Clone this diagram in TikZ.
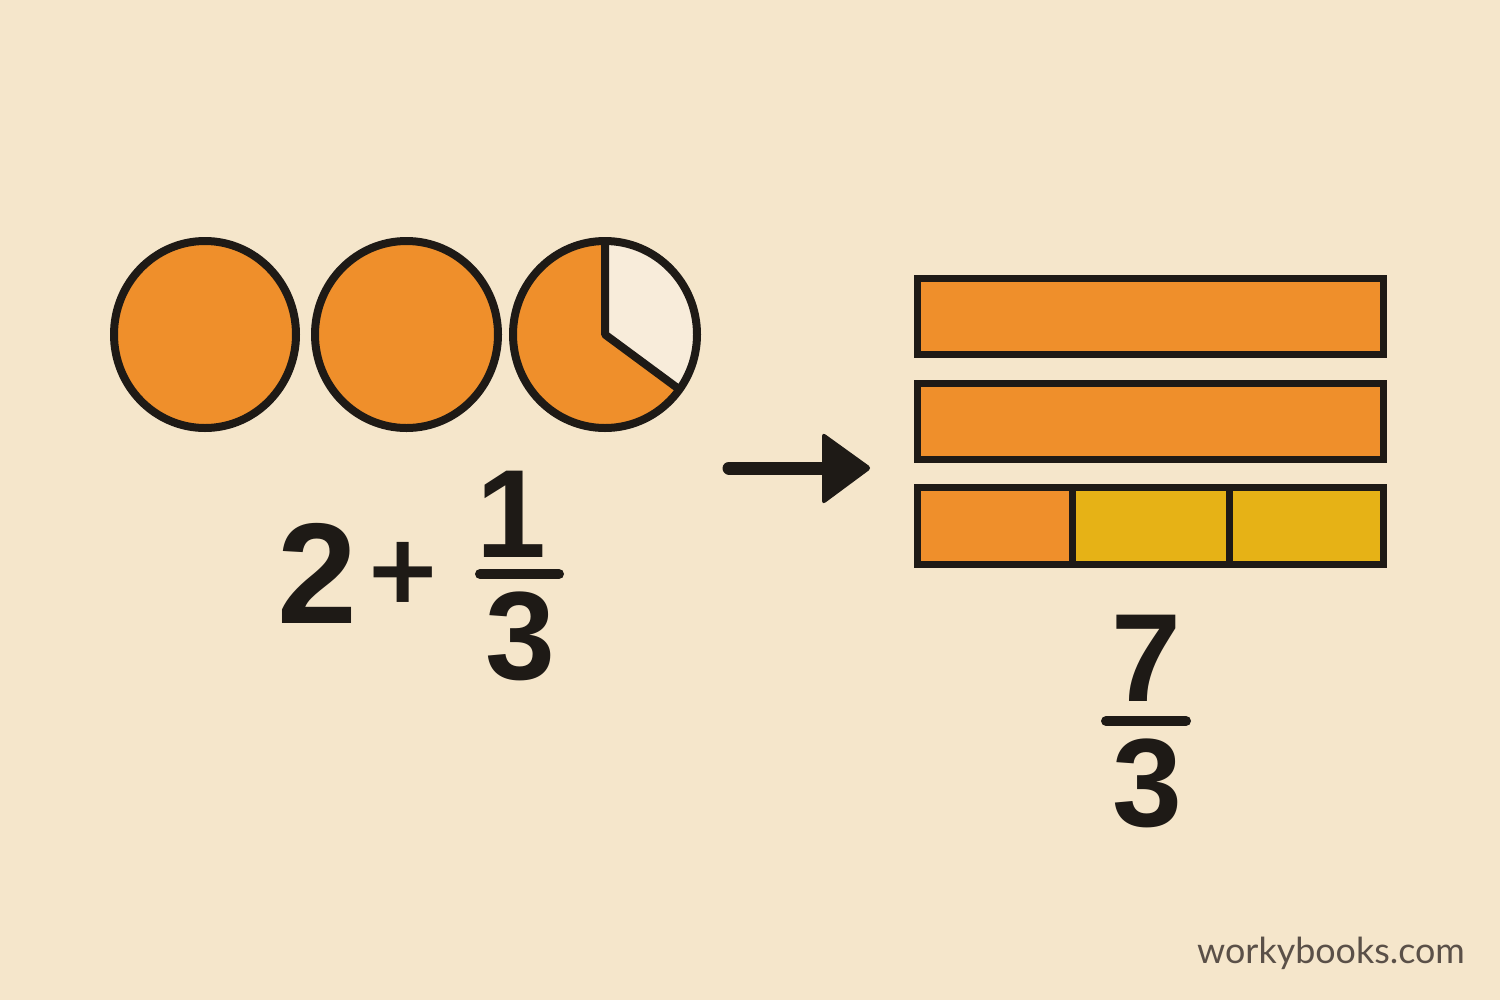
\documentclass[tikz,border=0pt]{standalone}
\usetikzlibrary{calc}
\usepackage{fontspec}
\setmainfont{Lato}
\newfontfamily\digitfont{Liberation Sans}[UprightFont=* Bold]
\newfontfamily\plusfont{Lato}[UprightFont=* Bold]
\newfontfamily\markfont{Lato}
\definecolor{bg}{HTML}{F5E6CB}
\definecolor{ink}{HTML}{1E1A16}
\definecolor{orng}{HTML}{EF8F2B}
\definecolor{yllw}{HTML}{E6B216}
\definecolor{crm}{HTML}{F8ECDA}
\definecolor{wmark}{HTML}{5A5048}
\tikzset{
  outline/.style={draw=ink, line width=8bp, line join=round},
  barbox/.style={draw=ink, line width=7bp, line join=miter},
  bigdigit/.style={text=ink, inner sep=0pt, font=\digitfont\fontsize{144}{144}\selectfont},
  fracdigit/.style={text=ink, inner sep=0pt, font=\digitfont\fontsize{126}{126}\selectfont},
  fracbar/.style={draw=ink, line width=10bp, line cap=round},
}
\begin{document}
\begin{tikzpicture}[x=1bp,y=-1bp]
\fill[bg] (0,0) rectangle (1500,1000);
\useasboundingbox (0,0) rectangle (1500,1000);
% circles
\draw[outline, fill=orng] (205,334.5) ellipse [x radius=91, y radius=93.5];
\draw[outline, fill=orng] (406.5,334.5) ellipse [x radius=91.5, y radius=93.5];
\fill[orng] (605,334.5) ellipse [x radius=92, y radius=93.5];
\fill[crm] (605,334.5) -- (605,241) arc [start angle=-90, end angle=36, x radius=92, y radius=93.5] -- cycle;
\draw[ink, line width=8bp, line join=round] (605,241) -- (605,334.5) -- ($(605,334.5)+(36:92 and 93.5)$);
\draw[outline] (605,334.5) ellipse [x radius=92, y radius=93.5];
% bars
\draw[barbox, fill=orng] (917.5,278.5) rectangle (1383.5,354.5);
\draw[barbox, fill=orng] (917.5,383.5) rectangle (1383.5,459.5);
\fill[orng] (917.5,487.5) rectangle (1072,564.5);
\fill[yllw] (1072,487.5) rectangle (1383.5,564.5);
\draw[barbox] (917.5,487.5) rectangle (1383.5,564.5);
\draw[ink, line width=7bp] (1072,487.5) -- (1072,564.5);
\draw[ink, line width=7bp] (1229,487.5) -- (1229,564.5);
% arrow
\coordinate (as) at (729,468);
\coordinate (ae) at (830,468);
\draw[ink, line width=13bp, line cap=round] (as) -- (ae);
\fill[ink, rounded corners=4bp] (822,432) -- (872,468) -- (822,505) -- cycle;
% left expression
\node[bigdigit] (two) at (317.5,573.5) {2};
\node[text=ink, inner sep=0pt, font=\plusfont\fontsize{120}{120}\selectfont] (plus) at (403,577) {+};
\node[fracdigit] (one) at (511,514) {1};
\draw[fracbar] (480,574) -- (559,574);
\node[fracdigit] (three) at (520,636) {3};
% right fraction
\node[fracdigit] (seven) at (1146,658) {7};
\draw[fracbar] (1106,721) -- (1186,721);
\node[fracdigit] (threeb) at (1147,783) {3};
% watermark
\node[anchor=base east, inner sep=0pt, text=wmark, font=\markfont\fontsize{36}{36}\selectfont] (wm) at (1465,963) {workybooks.com};
\end{tikzpicture}
\end{document}
